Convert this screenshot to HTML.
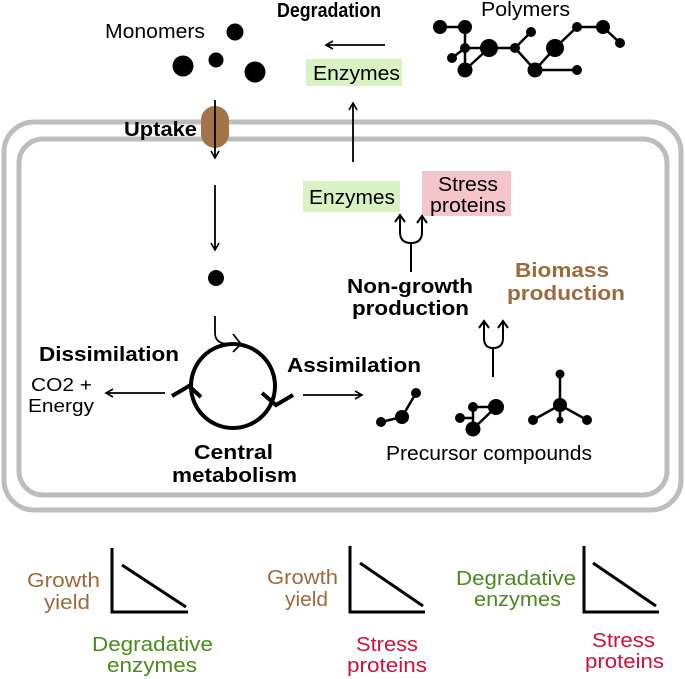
<!DOCTYPE html>
<html><head><meta charset="utf-8"><style>
html,body{margin:0;padding:0;background:#fff;}
svg{display:block;font-family:"Liberation Sans",Arial,sans-serif;}
.b{font-weight:bold;}
</style></head><body>
<svg width="685" height="679" viewBox="0 0 685 679" xmlns="http://www.w3.org/2000/svg">
<defs>
<marker id="a" markerWidth="10" markerHeight="10" refX="8" refY="5" orient="auto" markerUnits="userSpaceOnUse">
<path d="M1,1 L8,5 L1,9" fill="none" stroke="#000" stroke-width="1.6"/>
</marker>
</defs>
<rect x="4" y="122" width="677" height="388" rx="30" fill="none" stroke="#bdbdbd" stroke-width="5"/>
<rect x="19" y="139" width="648" height="356" rx="24" fill="none" stroke="#bdbdbd" stroke-width="5"/>

<g font-size="20" lengthAdjust="spacingAndGlyphs">
<text x="105" y="38" textLength="100" lengthAdjust="spacingAndGlyphs">Monomers</text>
<text x="277" y="17" class="b" textLength="104" lengthAdjust="spacingAndGlyphs">Degradation</text>
<text x="481" y="16" textLength="89" lengthAdjust="spacingAndGlyphs">Polymers</text>
</g>
<g fill="#000">
<circle cx="235" cy="32" r="8.5"/><circle cx="183" cy="66" r="10.5"/><circle cx="216" cy="60" r="7.5"/><circle cx="255" cy="72" r="10.5"/>
</g>
<g stroke="#000" stroke-width="2.5" fill="none">
<path d="M440,27 L465,27 L465,70 M452,58 L465,48 M465,70 L489,48 M465,48 L515,48 L531,32 M515,48 L535,70 L555,48 L577,27 L603,27 L620,43 M535,70 L577,70"/>
</g>
<g fill="#000">
<circle cx="440" cy="27" r="7"/><circle cx="465" cy="27" r="7"/><circle cx="465" cy="48" r="5"/><circle cx="489" cy="48" r="9"/><circle cx="515" cy="48" r="5"/><circle cx="531" cy="32" r="5"/><circle cx="555" cy="48" r="9"/><circle cx="577" cy="27" r="5"/><circle cx="603" cy="27" r="7"/><circle cx="620" cy="43" r="5"/><circle cx="452" cy="58" r="5"/><circle cx="465" cy="70" r="7.5"/><circle cx="535" cy="70" r="7.5"/><circle cx="577" cy="70" r="5"/>
</g>
<line x1="385" y1="45" x2="326" y2="45" stroke="#000" stroke-width="1.8" marker-end="url(#a)"/>
<rect x="306" y="59" width="96" height="27" fill="#d8f2c4"/>
<text x="313" y="80" font-size="20" textLength="87" lengthAdjust="spacingAndGlyphs">Enzymes</text>
<line x1="353" y1="162" x2="353" y2="103" stroke="#000" stroke-width="1.8" marker-end="url(#a)"/>

<rect x="201" y="106" width="28" height="42" rx="14" fill="#a47449"/>
<text x="124" y="136" font-size="20" class="b" textLength="73" lengthAdjust="spacingAndGlyphs">Uptake</text>
<line x1="215" y1="100" x2="215" y2="158" stroke="#000" stroke-width="1.8" marker-end="url(#a)"/>
<line x1="215" y1="185" x2="215" y2="250" stroke="#000" stroke-width="1.8" marker-end="url(#a)"/>
<circle cx="216" cy="278" r="8" fill="#000"/>

<rect x="303" y="181" width="97" height="31" fill="#d8f2c4"/>
<text x="309" y="204" font-size="20" textLength="86" lengthAdjust="spacingAndGlyphs">Enzymes</text>
<rect x="422" y="171" width="89" height="45" fill="#f4c6cc"/>
<text x="438" y="191" font-size="20" textLength="60" lengthAdjust="spacingAndGlyphs">Stress</text>
<text x="430" y="212" font-size="20" textLength="76" lengthAdjust="spacingAndGlyphs">proteins</text>

<g stroke="#000" stroke-width="2" fill="none">
<path d="M411,272 L411,243 M400,216 L400,232 Q400,243 411,243 Q422,243 422,232 L422,217"/>
<path d="M395,222 L400,215 L405,222 M417,223 L422,216 L427,223"/>
<path d="M493,377 L493,348 M484,322 L484,338 Q484,348 493,348 Q503,348 503,338 L503,322"/>
<path d="M479,328 L484,321 L489,328 M498,328 L503,321 L508,328"/>
</g>
<text x="347" y="293" font-size="20" class="b" textLength="126" lengthAdjust="spacingAndGlyphs">Non-growth</text>
<text x="352" y="315" font-size="20" class="b" textLength="117" lengthAdjust="spacingAndGlyphs">production</text>
<text x="515" y="277" font-size="20" class="b" fill="#9c6a3c" textLength="94" lengthAdjust="spacingAndGlyphs">Biomass</text>
<text x="507" y="300" font-size="20" class="b" fill="#9c6a3c" textLength="118" lengthAdjust="spacingAndGlyphs">production</text>

<circle cx="233" cy="386" r="42" fill="none" stroke="#000" stroke-width="4"/>
<path d="M215,316 L215,333 Q215,345 232,344 L240,344" fill="none" stroke="#000" stroke-width="1.8"/>
<path d="M233,334 L241,344 L233,352" fill="none" stroke="#000" stroke-width="1.8"/>
<path d="M172,396 L189,386 L201,397" fill="none" stroke="#000" stroke-width="4"/>
<path d="M262,393 L276,405 L293,395" fill="none" stroke="#000" stroke-width="4"/>
<text x="39" y="361" font-size="20" class="b" textLength="140" lengthAdjust="spacingAndGlyphs">Dissimilation</text>
<text x="31" y="391" font-size="18" textLength="61" lengthAdjust="spacingAndGlyphs">CO2 +</text>
<text x="28" y="412" font-size="18" textLength="66" lengthAdjust="spacingAndGlyphs">Energy</text>
<line x1="165" y1="393" x2="106" y2="393" stroke="#000" stroke-width="1.8" marker-end="url(#a)"/>
<text x="287" y="372" font-size="20" class="b" textLength="134" lengthAdjust="spacingAndGlyphs">Assimilation</text>
<line x1="303" y1="395" x2="362" y2="395" stroke="#000" stroke-width="1.8" marker-end="url(#a)"/>
<text x="194" y="459" font-size="20" class="b" textLength="79" lengthAdjust="spacingAndGlyphs">Central</text>
<text x="172" y="482" font-size="20" class="b" textLength="125" lengthAdjust="spacingAndGlyphs">metabolism</text>
<text x="386" y="460" font-size="20" textLength="206" lengthAdjust="spacingAndGlyphs">Precursor compounds</text>

<g stroke="#000" stroke-width="2.5" fill="none">
<path d="M381,422 L402,417 L416,393"/>
<path d="M460,418 L473,418 M473,407 L496,407 M473,407 L473,429 L496,407"/>
<path d="M560,374 L560,420 M533,420 L560,405 L587,420"/>
</g>
<g fill="#000">
<circle cx="381" cy="422" r="5"/><circle cx="402" cy="417" r="7"/><circle cx="416" cy="393" r="5"/>
<circle cx="460" cy="418" r="5"/><circle cx="473" cy="407" r="5"/><circle cx="473" cy="429" r="7.5"/><circle cx="496" cy="407" r="8"/>
<circle cx="560" cy="374" r="4.5"/><circle cx="560" cy="405" r="7"/><circle cx="533" cy="420" r="5"/><circle cx="587" cy="420" r="5"/><circle cx="560" cy="420" r="3.5"/>
</g>

<g stroke="#000" stroke-width="3" fill="none">
<path d="M112,548 L112,612 L188,612"/><path d="M122,565 L186,607"/>
<path d="M350,546 L350,612 L425,612"/><path d="M360,563 L423,606"/>
<path d="M584,546 L584,612 L659,612"/><path d="M593,563 L656,606"/>
</g>
<g font-size="20">
<text x="27" y="587" fill="#9c6a3c" textLength="73" lengthAdjust="spacingAndGlyphs">Growth</text>
<text x="44" y="609" fill="#9c6a3c" textLength="46" lengthAdjust="spacingAndGlyphs">yield</text>
<text x="92" y="651" fill="#4a8a1e" textLength="121" lengthAdjust="spacingAndGlyphs">Degradative</text>
<text x="107" y="672" fill="#4a8a1e" textLength="90" lengthAdjust="spacingAndGlyphs">enzymes</text>
<text x="267" y="584" fill="#9c6a3c" textLength="71" lengthAdjust="spacingAndGlyphs">Growth</text>
<text x="285" y="606" fill="#9c6a3c" textLength="43" lengthAdjust="spacingAndGlyphs">yield</text>
<text x="356" y="651" fill="#d0103a" textLength="62" lengthAdjust="spacingAndGlyphs">Stress</text>
<text x="347" y="672" fill="#d0103a" textLength="80" lengthAdjust="spacingAndGlyphs">proteins</text>
<text x="456" y="585" fill="#4a8a1e" textLength="120" lengthAdjust="spacingAndGlyphs">Degradative</text>
<text x="474" y="606" fill="#4a8a1e" textLength="87" lengthAdjust="spacingAndGlyphs">enzymes</text>
<text x="592" y="647" fill="#d0103a" textLength="63" lengthAdjust="spacingAndGlyphs">Stress</text>
<text x="585" y="668" fill="#d0103a" textLength="79" lengthAdjust="spacingAndGlyphs">proteins</text>
</g>
</svg>
</body></html>
